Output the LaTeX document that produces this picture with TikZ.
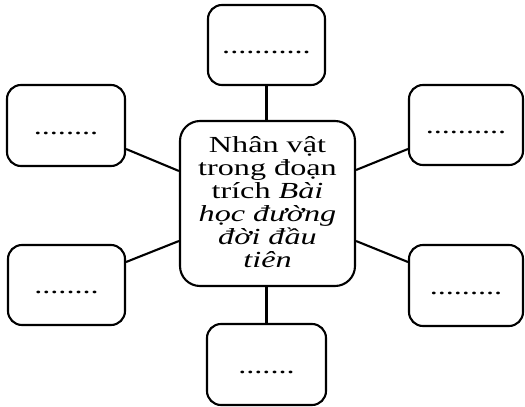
\documentclass[tikz,border=0pt]{standalone}
\usepackage{fontspec}
\setmainfont{Liberation Serif}
\usetikzlibrary{calc}
\tikzset{
  box/.style={draw=black, line width=2.1pt, rounded corners=14pt, inner sep=0pt},
  link/.style={draw=black, line width=2.1pt},
  dotstext/.style={inner sep=0pt, anchor=base, font=\fontsize{23}{22.5}\selectfont},
  centertext/.style={inner sep=0pt, font=\fontsize{23}{22.5}\selectfont}
}
\newcommand{\wide}[1]{\scalebox{1.4}[1]{#1}}
\begin{document}
\begin{tikzpicture}[x=1pt,y=-1pt]
\useasboundingbox (0,0) rectangle (525,407);
% boxes
\node[box, minimum width=117pt, minimum height=80pt] (T)  at (266.5,45) {};
\node[box, minimum width=118pt, minimum height=81pt] (LT) at (66,125.5) {};
\node[box, minimum width=114pt, minimum height=80pt] (RT) at (466,125) {};
\node[box, minimum width=117pt, minimum height=80pt] (LB) at (66.5,285) {};
\node[box, minimum width=114pt, minimum height=81pt] (RB) at (466,285.5) {};
\node[box, minimum width=119pt, minimum height=81pt] (B)  at (266.5,364.5) {};
\node[box, rounded corners=20pt, minimum width=175pt, minimum height=165pt] (C) at (267.5,203.5) {};
% dotted placeholders
\node[dotstext] (Tt)  at ([yshift=-8.5pt]T.center)  {\wide{...........}};
\node[dotstext] (LTt) at ([yshift=-8.5pt]LT.center) {\wide{........}};
\node[dotstext] (RTt) at ([yshift=-8.5pt]RT.center) {\wide{..........}};
\node[dotstext] (LBt) at ([yshift=-8.5pt]LB.center) {\wide{........}};
\node[dotstext] (RBt) at ([yshift=-8.5pt]RB.center) {\wide{.........}};
\node[dotstext] (Bt)  at ([yshift=-8.5pt]B.center)  {\wide{.......}};
% center text
\node[centertext] (Ct) at ([yshift=-2pt]C.center) {\wide{\fontsize{23}{22.5}\selectfont\begin{tabular}{@{}c@{}}Nhân vật\\ trong đoạn\\ trích \textit{Bài}\\ \textit{học đường}\\ \textit{đời đầu}\\ \textit{tiên}\end{tabular}}};
% connectors
\draw[link] (T.south) -- (T.south |- C.north);
\draw[link] (B.north) -- (B.north |- C.south);
\draw[link] ([yshift=-23.5pt]LT.east) -- ([yshift=32.5pt]C.west);
\draw[link] ([yshift=23pt]LB.east) -- ([yshift=-37.5pt]C.west);
\draw[link] ([yshift=33.5pt]C.east) -- ([yshift=-24pt]RT.west);
\draw[link] ([yshift=-37.5pt]C.east) -- ([yshift=23.5pt]RB.west);
\end{tikzpicture}
\end{document}
